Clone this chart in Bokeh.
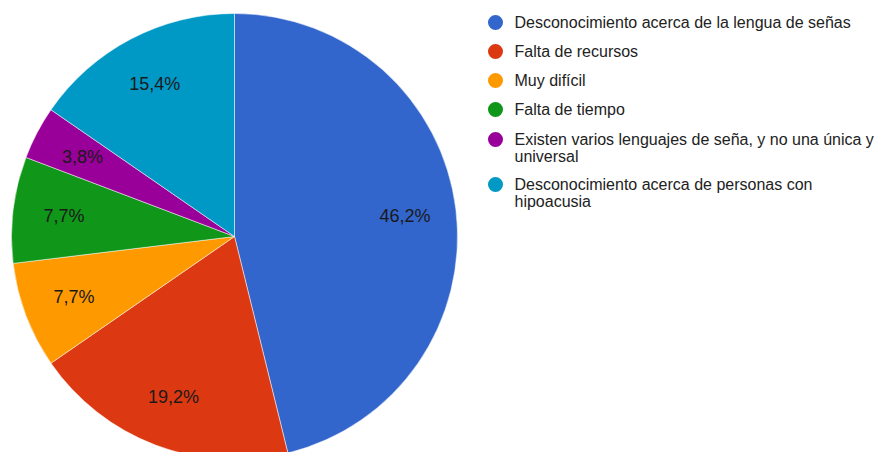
import numpy as np
from bokeh.plotting import figure
from bokeh.models import Range1d, ColumnDataSource
from bokeh.core.properties import value
from bokeh.embed import file_html
from bokeh.resources import INLINE

categories = [
    "Desconocimiento acerca de la lengua de señas",
    "Falta de recursos",
    "Muy difícil",
    "Falta de tiempo",
    "Existen varios lenguajes de seña, y no una única y\nuniversal",
    "Desconocimiento acerca de personas con\nhipoacusia",
]
counts = [12, 5, 2, 2, 1, 4]
colors = ["#3366cc", "#dc3912", "#ff9900", "#109618", "#990099", "#0099c6"]

W, H = 874, 452
cx, cy, R = 234, H - 236, 223

vals = np.array(counts, dtype=float)
frac = vals / vals.sum()
cum = np.concatenate([[0], np.cumsum(frac)]) * 2 * np.pi
start = np.pi / 2 - cum[:-1]
end = np.pi / 2 - cum[1:]

p = figure(width=W, height=H, x_range=Range1d(0, W), y_range=Range1d(0, H),
           output_backend="svg", toolbar_location=None, min_border=0)
p.axis.visible = False
p.grid.visible = False
p.outline_line_color = None
p.background_fill_color = "white"
p.border_fill_color = "white"

src = ColumnDataSource(dict(start=start, end=end, color=colors))
p.wedge(x=cx, y=cy, radius=R, start_angle="start", end_angle="end", direction="clock",
        fill_color="color", line_color="white", line_width=0.5, source=src)

# slice labels
mid = (cum[:-1] + cum[1:]) / 2
lx = cx + 0.77 * R * np.sin(mid)
ly = cy + 0.77 * R * np.cos(mid)
labels = [f"{f*100:.1f}%".replace(".", ",") for f in frac]
p.text(x=lx, y=ly, text=labels, text_align="center", text_baseline="middle",
       text_font=value("Liberation Sans"), text_font_size="18px", text_color="#1a1a1a")

# legend
leg_y = [H - 22, H - 51, H - 80, H - 109, H - 139, H - 184]
p.scatter(x=[495] * len(categories), y=leg_y, size=15, marker="circle",
          fill_color=colors, line_color=None)
p.text(x=[514] * len(categories), y=[y + 9 for y in leg_y], text=categories,
       text_align="left", text_baseline="top", text_line_height=1.0,
       text_font=value("Liberation Sans"), text_font_size="16px", text_color="#222222")

open("out.html", "w").write(file_html(p, INLINE))
